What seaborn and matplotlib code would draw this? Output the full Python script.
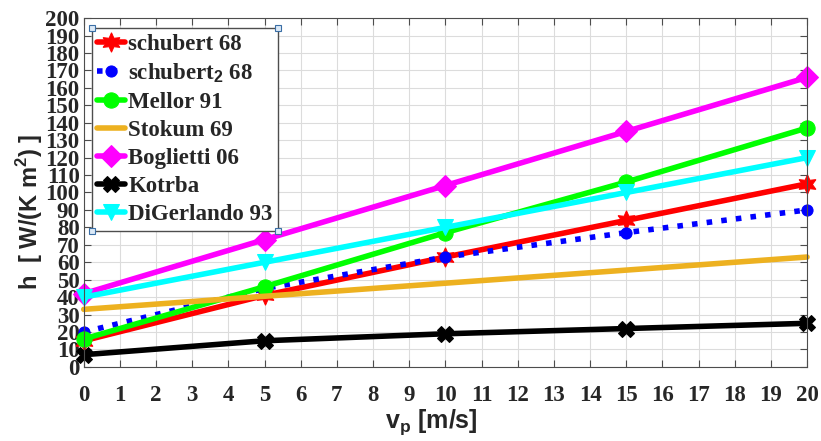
import numpy as np
import pandas as pd
import matplotlib
matplotlib.use("Agg")
import matplotlib.pyplot as plt
import seaborn as sns

# values
vp = [0, 5, 10, 15, 20]
schubert = [15, 41, 63, 84, 105]
schubert2 = [20, 45, 63, 77, 90]
mellor = [16, 46, 77, 106, 137]
stokum_x = [0, 20]
stokum = [33, 63]
boglietti = [42, 73, 104, 135, 166]
kotrba = [7, 15, 19, 22, 25]
digerlando = [40, 60, 80, 100, 120]

sns.set_theme(style="whitegrid")
plt.rcParams['font.family'] = ['Liberation Serif', 'DejaVu Serif']
plt.rcParams['font.weight'] = 'bold'
plt.rcParams['mathtext.fontset'] = 'custom'
plt.rcParams['mathtext.bf'] = 'Liberation Sans:bold'

fig = plt.figure(figsize=(8.21, 4.41), dpi=100)
ax = fig.add_axes([0.102, 0.168, 0.881, 0.791])
ax.set_facecolor('white')

lw = 4
series = [
    (vp, schubert, 'schubert 68', '#ff0000', '-', (6, 1, 0), 14),
    (vp, schubert2, 'schubert$_{\\mathbf{2}}$ 68', '#0000ff', ':', 'o', 8),
    (vp, mellor, 'Mellor 91', '#00ff00', '-', 'o', 11),
    (stokum_x, stokum, 'Stokum 69', '#edb120', '-', None, 0),
    (vp, boglietti, 'Boglietti 06', '#ff00ff', '-', 'D', 11),
    (vp, kotrba, 'Kotrba', '#000000', '-', 'X', 11),
    (vp, digerlando, 'DiGerlando 93', '#00ffff', '-', 'v', 12),
]
for x, y, name, col, ls, mk, ms in series:
    sns.lineplot(x=x, y=y, ax=ax, color=col, linestyle=ls, linewidth=lw,
                 marker=mk, markersize=ms, markeredgecolor=col,
                 markerfacecolor=col, label=name, clip_on=False)

ax.set_xlim(0, 20)
ax.set_ylim(0, 200)
ax.set_xticks(np.arange(0, 21, 1))
ax.set_yticks(np.arange(0, 201, 10))
ax.grid(True, color='#dcdcdc', linewidth=0.8)
ax.tick_params(axis='both', direction='in', length=5, width=0.8, color='#4d4d4d',
               labelsize=16.5, top=True, right=True, bottom=True, left=True)
ax.tick_params(axis='x', pad=13)
ax.tick_params(axis='y', pad=3)
for lab in ax.get_xticklabels() + ax.get_yticklabels():
    lab.set_fontweight('bold')
    lab.set_color('#262626')
for s in ax.spines.values():
    s.set_color('#4d4d4d')
    s.set_linewidth(0.8)

ax.set_xlabel('v$_{\\mathbf{p}}$ [m/s]', fontsize=18, fontweight='bold',
              family=['Liberation Sans', 'DejaVu Sans'])
ax.set_ylabel('h  [ W/(K m$^{\\mathbf{2}}$) ]', fontsize=17, fontweight='bold',
              family=['Liberation Sans', 'DejaVu Sans'])
ax.xaxis.set_label_coords(0.48, -0.117)
ax.yaxis.set_label_coords(-0.053, 0.444)

leg = ax.legend(loc='upper left', bbox_to_anchor=(0.011, 0.972), frameon=True,
                fancybox=False, edgecolor='#4d4d4d', framealpha=1,
                prop={'family': 'Liberation Serif', 'weight': 'bold', 'size': 16.5},
                handlelength=1.2, handletextpad=0.15, labelspacing=0.3,
                borderpad=0.25, borderaxespad=0.0)
leg.get_frame().set_linewidth(1.0)

# selection handles at legend corners
fig.canvas.draw()
bb = leg.get_window_extent().transformed(ax.transAxes.inverted())
for cx in (bb.x0, bb.x1):
    for cy in (bb.y0, bb.y1):
        ax.plot(cx, cy, marker='s', markersize=5, markerfacecolor='#dbe9f7',
                markeredgecolor='#3a6ea5', markeredgewidth=0.8,
                transform=ax.transAxes, clip_on=False, zorder=10)

fig.savefig('out.png', dpi=100)
